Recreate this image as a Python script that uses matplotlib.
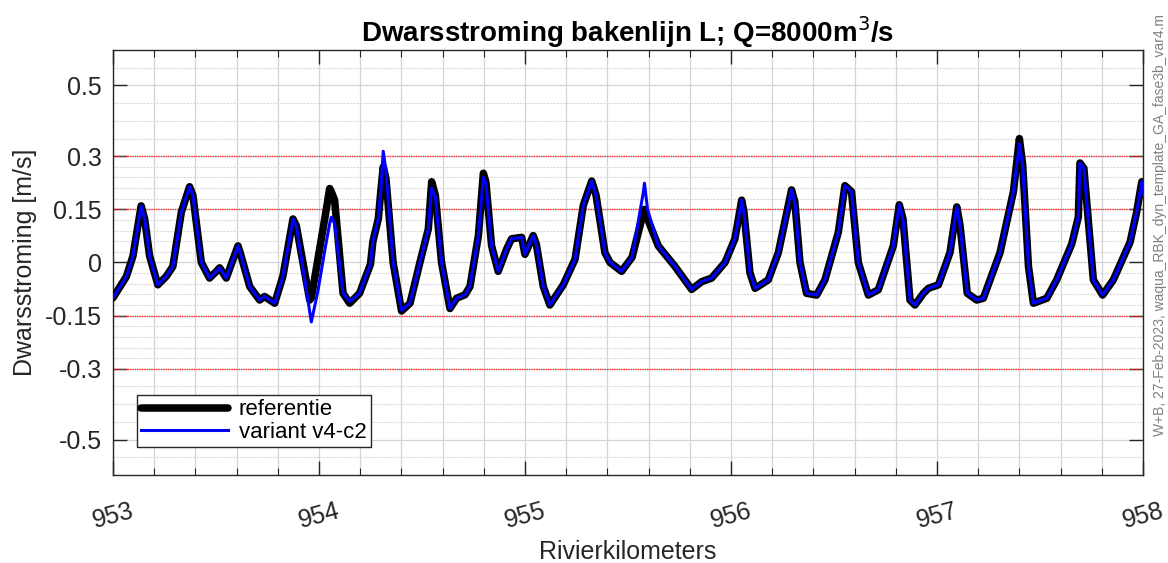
import matplotlib.pyplot as plt

plt.rcParams["font.family"] = ["Liberation Sans", "DejaVu Sans"]

# rivierkilometer en dwarsstroming [m/s]
km = [953.000, 953.065, 953.097, 953.137, 953.154, 953.178, 953.218, 953.259,
      953.291, 953.332, 953.372, 953.388, 953.429, 953.469, 953.502, 953.518,
      953.550, 953.607, 953.620, 953.664, 953.712, 953.736, 953.785, 953.825,
      953.874, 953.890, 953.955, 953.963, 953.995, 954.030, 954.052, 954.060,
      954.076, 954.117, 954.149, 954.197, 954.250, 954.262, 954.288, 954.300,
      954.312, 954.325, 954.360, 954.401, 954.442, 954.490, 954.531, 954.547,
      954.565, 954.595, 954.636, 954.668, 954.709, 954.733, 954.774, 954.798,
      954.810, 954.838, 954.870, 954.911, 954.935, 954.984, 955.000, 955.040,
      955.055, 955.089, 955.121, 955.186, 955.243, 955.283, 955.324, 955.345,
      955.388, 955.413, 955.469, 955.520, 955.575, 955.580, 955.595, 955.647,
      955.728, 955.809, 955.858, 955.906, 955.971, 956.019, 956.052, 956.063,
      956.092, 956.117, 956.181, 956.230, 956.294, 956.310, 956.335, 956.367,
      956.416, 956.456, 956.521, 956.553, 956.585, 956.618, 956.667, 956.715,
      956.760, 956.788, 956.817, 956.835, 956.869, 956.893, 956.934, 956.958,
      957.007, 957.063, 957.096, 957.112, 957.147, 957.193, 957.225, 957.306,
      957.371, 957.400, 957.416, 957.444, 957.468, 957.533, 957.581, 957.654,
      957.686, 957.694, 957.713, 957.759, 957.804, 957.856, 957.937, 957.969,
      957.994, 958.000]

referentie = [-0.100, -0.040, 0.018, 0.160, 0.123, 0.018, -0.063, -0.039,
              -0.011, 0.142, 0.214, 0.190, 0.000, -0.044, -0.025, -0.015,
              -0.044, 0.047, 0.023, -0.068, -0.106, -0.096, -0.115, -0.039,
              0.123, 0.104, -0.106, -0.100, 0.009, 0.130, 0.209, 0.200,
              0.176, -0.087, -0.115, -0.087, -0.005, 0.060, 0.123, 0.200,
              0.270, 0.238, 0.000, -0.137, -0.115, 0.000, 0.095, 0.228,
              0.190, 0.000, -0.130, -0.101, -0.091, -0.068, 0.076, 0.252,
              0.228, 0.047, -0.025, 0.038, 0.067, 0.071, 0.023, 0.076,
              0.052, -0.068, -0.120, -0.063, 0.009, 0.161, 0.230, 0.190,
              0.028, 0.000, -0.025, 0.015, 0.142, 0.150, 0.123, 0.047,
              -0.011, -0.076, -0.054, -0.044, 0.000, 0.067, 0.176, 0.142,
              -0.029, -0.073, -0.049, 0.028, 0.205, 0.171, 0.000, -0.087,
              -0.092, -0.049, 0.085, 0.217, 0.200, 0.000, -0.092, -0.077,
              0.000, 0.047, 0.163, 0.123, -0.106, -0.120, -0.087, -0.073,
              -0.063, 0.028, 0.157, 0.104, -0.087, -0.106, -0.101, 0.028,
              0.200, 0.350, 0.276, -0.011, -0.115, -0.101, -0.049, 0.052,
              0.128, 0.281, 0.266, -0.049, -0.092, -0.049, 0.057, 0.142,
              0.228, 0.195]

variant = [-0.100, -0.040, 0.018, 0.160, 0.123, 0.018, -0.063, -0.039,
           -0.011, 0.142, 0.214, 0.190, 0.000, -0.044, -0.025, -0.015,
           -0.044, 0.047, 0.023, -0.068, -0.106, -0.096, -0.115, -0.039,
           0.123, 0.104, -0.140, -0.168, -0.080, 0.040, 0.110, 0.128,
           0.110, -0.087, -0.110, -0.087, -0.005, 0.060, 0.123, 0.200,
           0.314, 0.260, 0.000, -0.135, -0.115, 0.000, 0.095, 0.210,
           0.185, 0.000, -0.130, -0.101, -0.091, -0.068, 0.076, 0.240,
           0.225, 0.047, -0.025, 0.038, 0.067, 0.071, 0.023, 0.076,
           0.052, -0.068, -0.120, -0.063, 0.009, 0.161, 0.230, 0.190,
           0.028, 0.000, -0.025, 0.015, 0.200, 0.224, 0.150, 0.047,
           -0.011, -0.076, -0.054, -0.044, 0.000, 0.067, 0.176, 0.142,
           -0.029, -0.073, -0.049, 0.028, 0.205, 0.171, 0.000, -0.087,
           -0.092, -0.049, 0.085, 0.217, 0.200, 0.000, -0.092, -0.077,
           0.000, 0.047, 0.163, 0.123, -0.106, -0.120, -0.087, -0.073,
           -0.063, 0.028, 0.157, 0.104, -0.087, -0.106, -0.101, 0.028,
           0.200, 0.335, 0.276, -0.011, -0.115, -0.101, -0.049, 0.052,
           0.128, 0.281, 0.266, -0.049, -0.092, -0.049, 0.057, 0.142,
           0.228, 0.195]

x_ticks = [953, 954, 955, 956, 957, 958]
x_grid = [953.2, 953.4, 953.6, 953.8, 954.2, 954.4, 954.6, 954.8, 955.2, 955.4,
          955.6, 955.8, 956.2, 956.4, 956.6, 956.8, 957.2, 957.4, 957.6, 957.8]
y_ticks = [-0.5, -0.3, -0.15, 0, 0.15, 0.3, 0.5]
y_tick_labels = ["-0.5", "-0.3", "-0.15", "0", "0.15", "0.3", "0.5"]
y_grid = [-0.55, -0.45, -0.4, -0.35, -0.27, -0.24, -0.21, -0.18, -0.12, -0.09,
          -0.06, -0.03, 0.03, 0.06, 0.09, 0.12, 0.18, 0.21, 0.24, 0.27, 0.35,
          0.4, 0.45, 0.55]
limits = [-0.3, -0.15, 0.15, 0.3]

fig = plt.figure(figsize=(11.68, 5.63), dpi=100)
ax = fig.add_axes([0.0967, 0.1563, 0.8819, 0.7549])

ax.set_xticks(x_ticks)
ax.set_xticks(x_grid, minor=True)
ax.set_yticks(y_ticks)
ax.set_yticklabels(y_tick_labels)
ax.set_yticks(y_grid, minor=True)
ax.grid(True, which="both", axis="x", color="#d4d4d4", linewidth=0.9)
ax.grid(True, which="major", axis="y", color="#d4d4d4", linewidth=0.9)
ax.grid(True, which="minor", axis="y", color="#dadada", linewidth=0.8,
        linestyle=(0, (2, 1)))

for lim in limits:
    ax.axhline(lim, color="#ff3030", linewidth=1.0, linestyle=(0, (1, 0.7)),
               zorder=2)

ax.plot(km, referentie, color="black", linewidth=5.4, label="referentie",
        solid_joinstyle="round", solid_capstyle="round", zorder=3)
ax.plot(km, variant, color="#0000ff", linewidth=2.2, label="variant v4-c2",
        solid_joinstyle="round", zorder=4)

ax.set_xlim(953, 958)
ax.set_ylim(-0.6, 0.6)
ax.tick_params(which="major", direction="in", length=10, width=1,
               top=True, right=True, labelsize=18, color="#262626",
               labelcolor="#262626")
ax.tick_params(which="minor", direction="in", length=5, width=0.8,
               top=True, right=True, color="#262626")
ax.tick_params(axis="y", which="minor", length=0)
ax.tick_params(axis="x", pad=17)
ax.tick_params(axis="y", pad=8)
for lbl in ax.get_xticklabels():
    lbl.set_rotation(15)
for sp in ax.spines.values():
    sp.set_color("#262626")
    sp.set_linewidth(1.0)

ax.set_xlabel("Rivierkilometers", fontsize=18, color="#262626", labelpad=5)
ax.set_ylabel("Dwarsstroming [m/s]", fontsize=18, color="#262626", labelpad=6)
ax.set_title("Dwarsstroming bakenlijn L; Q=8000m$^3$/s", fontsize=20,
             fontweight="bold", pad=5)

leg = ax.legend(loc="lower left", bbox_to_anchor=(0.023, 0.066), fontsize=16,
                fancybox=False, framealpha=1, edgecolor="#262626",
                handlelength=3.9, borderpad=0.2, labelspacing=0.05,
                borderaxespad=0, handletextpad=0.5)
leg.get_frame().set_linewidth(1.0)

fig.text(0.993, 0.6, "W+B, 27-Feb-2023, waqua_RBK_dyn_template_GA_fase3b_var4.m",
         rotation=90, ha="center", va="center", fontsize=10, color="#808080")

fig.savefig("out.png", dpi=100)
plt.close(fig)
